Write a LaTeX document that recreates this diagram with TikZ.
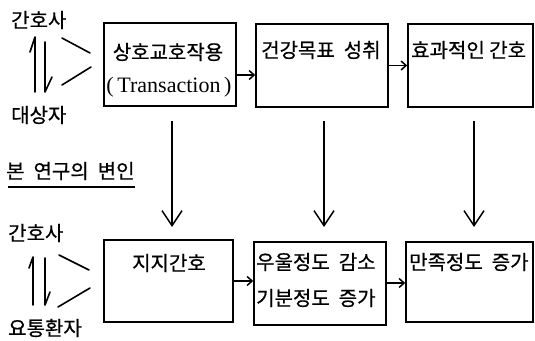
\documentclass[tikz,border=0pt]{standalone}
\usepackage{fontspec}
\setmainfont{Liberation Serif}
\newfontfamily\kr[FakeBold=0.6]{Noto Sans CJK KR}
\newcommand{\ksp}{\hspace{0.45em}}
\usetikzlibrary{arrows.meta}
\begin{document}
\begin{tikzpicture}[x=1pt,y=-1pt,
  box/.style={draw, line width=1.6pt, inner sep=0pt, minimum width=132pt, minimum height=83pt},
  krtext/.style={inner sep=0pt, font=\kr\fontsize{20}{24}\selectfont},
  lattext/.style={inner sep=0pt, font=\fontsize{22}{26}\selectfont},
  harr/.style={line width=1.5pt, -{Straight Barb[length=5pt,width=9pt]}},
  varr/.style={line width=1.5pt, -{Straight Barb[length=15pt,width=20pt]}},
  deco/.style={line width=1.6pt, line cap=round, line join=round}]
\useasboundingbox (0,0) rectangle (535,340);
% boxes
\node[box] (b1) at (170,64.5) {};
\node[box] (b2) at (322,65.5) {};
\node[box, minimum width=125pt] (b3) at (470.5,65.5) {};
\node[box, minimum width=129pt, minimum height=82pt] (b4) at (168.5,281) {};
\node[box] (b5) at (320,283.5) {};
\node[box, minimum width=127pt, minimum height=80pt] (b6) at (469.5,282) {};
% box texts
\node[krtext] (t1a) at (168,52) {상호교호작용};
\node[lattext] (t1b) at (169,87) {(\,Transaction\,)};
\node[krtext, anchor=west] (t2) at (261,50) {건강목표\ksp 성취};
\node[krtext, anchor=west] (t3) at (411,50) {효과적인 간호};
\node[krtext] (t4) at (169,263) {지지간호};
\node[krtext, anchor=west] (t5a) at (256,262) {우울정도\ksp 감소};
\node[krtext, anchor=west] (t5b) at (256,298) {기분정도\ksp 증가};
\node[krtext, anchor=west] (t6) at (409,262) {만족정도\ksp 증가};
% side labels
\node[krtext, anchor=west] (l1) at (11,20) {간호사};
\node[krtext, anchor=west] (l2) at (11,115) {대상자};
\node[krtext, anchor=west] (l3) at (8,233) {간호사};
\node[krtext, anchor=west] (l4) at (8,328) {요통환자};
\node[krtext, anchor=west] (var) at (6,171) {본\ksp 연구의\ksp 변인};
\draw[line width=1.2pt] (8,187) -- (135,187);
% horizontal arrows
\draw[harr] ([yshift=-10.5pt]b1.east) -- ([yshift=-10.5pt]b1.east -| b2.west);
\draw[harr] (b2.east) -- (b2.east -| b3.west);
\draw[harr] (b4.east) -- (b4.east -| b5.west);
\draw[harr] ([yshift=0.5pt]b5.east) -- ([yshift=0.5pt]b5.east -| b6.west);
% vertical arrows
\coordinate (v1s) at (172,121); \coordinate (v1e) at (172,227);
\coordinate (v2s) at (324,121); \coordinate (v2e) at (324,227);
\coordinate (v3s) at (474,121); \coordinate (v3e) at (474,227);
\draw[varr] (v1s) -- (v1e);
\draw[varr] (v2s) -- (v2e);
\draw[varr] (v3s) -- (v3e);
% top interaction symbol
\draw[deco] (35,92) -- (35,37) -- (30,52);
\draw[deco] (45,42) -- (45,92) -- (52,77);
\draw[deco] (62,38) -- (90,53);
\draw[deco] (62,85) -- (91,67);
% bottom interaction symbol
\draw[deco] (33,305) -- (33,257) -- (29,268);
\draw[deco] (45,258) -- (45,305) -- (50,292);
\draw[deco] (59,255) -- (89,270);
\draw[deco] (58,307) -- (90,288);
\end{tikzpicture}
\end{document}
